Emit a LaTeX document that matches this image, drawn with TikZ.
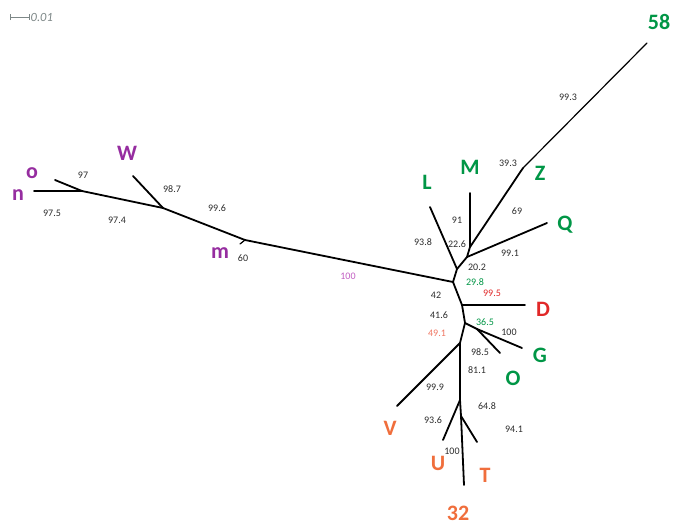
\documentclass[tikz,border=0pt]{standalone}
\usepackage{fontspec}
\setmainfont{Carlito}
\usetikzlibrary{arrows.meta}
\definecolor{trPurple}{RGB}{150,45,160}
\definecolor{trGreen}{RGB}{0,150,70}
\definecolor{trRed}{RGB}{225,40,40}
\definecolor{trOrange}{RGB}{240,110,60}
\definecolor{trPink}{RGB}{195,95,195}
\definecolor{trSalmon}{RGB}{240,120,100}
\definecolor{trText}{RGB}{45,45,45}
\definecolor{trScale}{RGB}{125,135,135}

\begin{document}
\begin{tikzpicture}[
    x=1pt, y=-1pt,
    branch/.style={line width=1.8pt, line cap=round},
    leaf/.style={font=\fontsize{22}{22}\selectfont\bfseries, inner sep=0pt},
    support/.style={font=\fontsize{10}{10}\selectfont, text=trText, inner sep=0pt}
]
  \useasboundingbox[fill=white] (0,0) rectangle (674,525);

  % scale bar
  \coordinate (sbL) at (10,17);
  \coordinate (sbR) at (30,17);
  \draw[trScale, line width=1pt, {Bar[width=6pt]}-{Bar[width=6pt]}] (sbL) -- (sbR);
  \node[font=\fontsize{12.5}{12.5}\selectfont\itshape, text=trScale, anchor=west, inner sep=0.5pt] (sbText) at (sbR) {0.01};

  % internal nodes
  \coordinate (jA) at (82,191);
  \coordinate (jB) at (163,208);
  \coordinate (jC) at (245,240);
  \coordinate (jD) at (453,282);
  \coordinate (jE) at (457,269);
  \coordinate (jF) at (467,257);
  \coordinate (jG) at (470,247);
  \coordinate (jZ) at (523,168);
  \coordinate (jDd) at (462,305);
  \coordinate (jH) at (465,323);
  \coordinate (jJ) at (477,329);
  \coordinate (jK) at (460,343);
  \coordinate (jL) at (460,400);
  \coordinate (jT) at (461,416);

  % tips
  \coordinate (tn) at (34,191);
  \coordinate (to) at (55,180);
  \coordinate (tW) at (133,176);
  \coordinate (tm) at (240,244);
  \coordinate (tL) at (430,207);
  \coordinate (tM) at (470,193);
  \coordinate (tQ) at (547,223);
  \coordinate (t58) at (647,43);
  \coordinate (tD) at (525,305);
  \coordinate (tG) at (522,348);
  \coordinate (tO) at (500,353);
  \coordinate (tV) at (397,406);
  \coordinate (tU) at (443,440);
  \coordinate (tT) at (477,442);
  \coordinate (t32) at (464,485);

  % branches
  \draw[branch] (tn) -- (jA);
  \draw[branch] (to) -- (jA);
  \draw[branch] (jA) -- (jB) -- (jC) -- (jD);
  \draw[branch] (tW) -- (jB);
  \draw[branch, line width=1.2pt] (tm) -- (jC);
  \draw[branch] (jD) -- (jE) -- (jF) -- (jG) -- (jZ);
  \draw[branch] (tL) -- (jE);
  \draw[branch] (tM) -- (jG);
  \draw[branch] (jF) -- (tQ);
  \draw[branch, line width=1.2pt] (jZ) -- (t58);
  \draw[branch] (jD) -- (jDd) -- (jH) -- (jK) -- (jL) -- (jT) -- (t32);
  \draw[branch] (jDd) -- (tD);
  \draw[branch] (jH) -- (jJ) -- (tG);
  \draw[branch] (jJ) -- (tO);
  \draw[branch] (jK) -- (tV);
  \draw[branch] (jL) -- (tU);
  \draw[branch] (jT) -- (tT);

  % leaf labels
  \node[leaf, text=trPurple] (lo) at (32,173) {o};
  \node[leaf, text=trPurple] (ln) at (18,195) {n};
  \node[leaf, text=trPurple] (lW) at (127,153) {W};
  \node[leaf, text=trPurple] (lm) at (220,253) {m};
  \node[leaf, text=trGreen] (lL) at (427,182) {L};
  \node[leaf, text=trGreen] (lM) at (470,167) {M};
  \node[leaf, text=trGreen] (lZ) at (540,173) {Z};
  \node[leaf, text=trGreen] (lQ) at (565,225) {Q};
  \node[leaf, text=trGreen] (l58) at (659,22) {58};
  \node[leaf, text=trRed] (lD) at (543,309) {D};
  \node[leaf, text=trGreen] (lG) at (540,355) {G};
  \node[leaf, text=trGreen] (lO) at (513,378) {O};
  \node[leaf, text=trOrange] (lV) at (390,428) {V};
  \node[leaf, text=trOrange] (lU) at (438,463) {U};
  \node[leaf, text=trOrange] (lT) at (485,475) {T};
  \node[leaf, text=trOrange] (l32) at (458,513) {32};

  % support values
  \node[support] (s97) at (83,175) {97};
  \node[support] (s975) at (52,213) {97.5};
  \node[support] (s974) at (117,220) {97.4};
  \node[support] (s987) at (172,189) {98.7};
  \node[support] (s996) at (217,208) {99.6};
  \node[support] (s60) at (243,258) {60};
  \node[support, text=trPink] (s100a) at (348,276) {100};
  \node[support] (s993) at (568,97) {99.3};
  \node[support] (s393) at (508,163) {39.3};
  \node[support] (s69) at (517,211) {69};
  \node[support] (s91) at (457,220) {91};
  \node[support] (s938) at (423,242) {93.8};
  \node[support] (s226) at (457,244) {22.6};
  \node[support] (s991) at (510,253) {99.1};
  \node[support] (s202) at (477,267) {20.2};
  \node[support, text=trGreen] (s298) at (475,282) {29.8};
  \node[support, text=trRed] (s995) at (492,293) {99.5};
  \node[support] (s42) at (436,295) {42};
  \node[support] (s416) at (439,315) {41.6};
  \node[support, text=trSalmon] (s491) at (437,333) {49.1};
  \node[support, text=trGreen] (s365) at (485,322) {36.5};
  \node[support] (s100b) at (509,332) {100};
  \node[support] (s985) at (480,352) {98.5};
  \node[support] (s811) at (477,370) {81.1};
  \node[support] (s999) at (435,387) {99.9};
  \node[support] (s648) at (487,406) {64.8};
  \node[support] (s936) at (433,420) {93.6};
  \node[support] (s941) at (514,429) {94.1};
  \node[support] (s100c) at (452,451) {100};
\end{tikzpicture}
\end{document}
